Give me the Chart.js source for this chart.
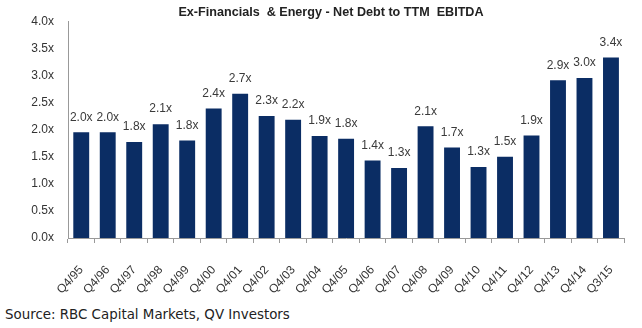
<!DOCTYPE html>
<html>
<head>
<meta charset="utf-8">
<script src="https://cdn.jsdelivr.net/npm/chart.js@4/dist/chart.umd.min.js"></script>
<style>
  html, body { margin: 0; padding: 0; background: #fff; }
  #wrap { position: relative; width: 642px; height: 328px; overflow: hidden; }
  #box { position: absolute; left: 0; top: 0; width: 642px; height: 300px; }
  #title { position: absolute; left: 0; top: 5px; width: 662px; text-align: center;
           font: bold 12.6px "Liberation Sans", Arial, sans-serif; color: #222; white-space: pre; }
  #source { position: absolute; left: 5px; top: 307px; font: 13.4px "DejaVu Sans", sans-serif; color: #222; }
</style>
</head>
<body>
<div id="wrap">
  <div id="box"><canvas id="c"></canvas></div>
  <div id="title">Ex-Financials  &amp; Energy - Net Debt to TTM  EBITDA</div>
  <div id="source">Source: RBC Capital Markets, QV Investors</div>
</div>
<script>
const categories = ["Q4/95","Q4/96","Q4/97","Q4/98","Q4/99","Q4/00","Q4/01","Q4/02","Q4/03","Q4/04","Q4/05","Q4/06","Q4/07","Q4/08","Q4/09","Q4/10","Q4/11","Q4/12","Q4/13","Q4/14","Q3/15"];
const netDebtToEbitda = [1.95,1.95,1.77,2.10,1.80,2.39,2.66,2.25,2.18,1.88,1.83,1.43,1.29,2.06,1.67,1.31,1.50,1.89,2.91,2.95,3.33];
const valueLabels = ["2.0x","2.0x","1.8x","2.1x","1.8x","2.4x","2.7x","2.3x","2.2x","1.9x","1.8x","1.4x","1.3x","2.1x","1.7x","1.3x","1.5x","1.9x","2.9x","3.0x","3.4x"];
const yTicks = [0,0.5,1,1.5,2,2.5,3,3.5,4];

const labelPlugin = {
  id: 'valLabels',
  afterDatasetsDraw(chart) {
    const ctx = chart.ctx;
    const meta = chart.getDatasetMeta(0);
    ctx.save();
    ctx.font = '12px "Liberation Sans", Arial, sans-serif';
    ctx.fillStyle = '#3a3a3a';
    ctx.textAlign = 'center';
    ctx.textBaseline = 'middle';
    meta.data.forEach((bar, i) => {
      ctx.fillText(valueLabels[i], bar.x, bar.y - 15);
    });
    ctx.restore();
  }
};

new Chart(document.getElementById('c'), {
  type: 'bar',
  data: {
    labels: categories,
    datasets: [{
      data: netDebtToEbitda,
      backgroundColor: '#0B2D64',
      barPercentage: 0.6,
      categoryPercentage: 1.0
    }]
  },
  options: {
    responsive: true,
    maintainAspectRatio: false,
    animation: false,
    layout: { padding: { left: 0, right: 14, top: 18, bottom: 0 } },
    plugins: { legend: { display: false }, tooltip: { enabled: false }, title: { display: false } },
    scales: {
      x: {
        offset: true,
        grid: { display: true, drawOnChartArea: false, drawTicks: true, tickLength: 5, color: '#999', offset: true },
        border: { display: true, color: '#999', width: 1 },
        ticks: {
          minRotation: 48, maxRotation: 48, autoSkip: false, padding: 20,
          color: '#333', font: { family: '"Liberation Sans", Arial, sans-serif', size: 12 }
        },
        afterFit(scale) { scale.height = 62; }
      },
      y: {
        min: 0, max: 4,
        afterBuildTicks(scale) { scale.ticks = yTicks.map(v => ({ value: v })); },
        grid: { display: false, drawTicks: false },
        border: { display: true, color: '#999', width: 1 },
        ticks: {
          padding: 14, color: '#333',
          font: { family: '"Liberation Sans", Arial, sans-serif', size: 12 },
          callback: v => Number(v).toFixed(1) + 'x'
        },
        afterFit(scale) { scale.width = 68; }
      }
    }
  },
  plugins: [labelPlugin]
});
</script>
</body>
</html>
